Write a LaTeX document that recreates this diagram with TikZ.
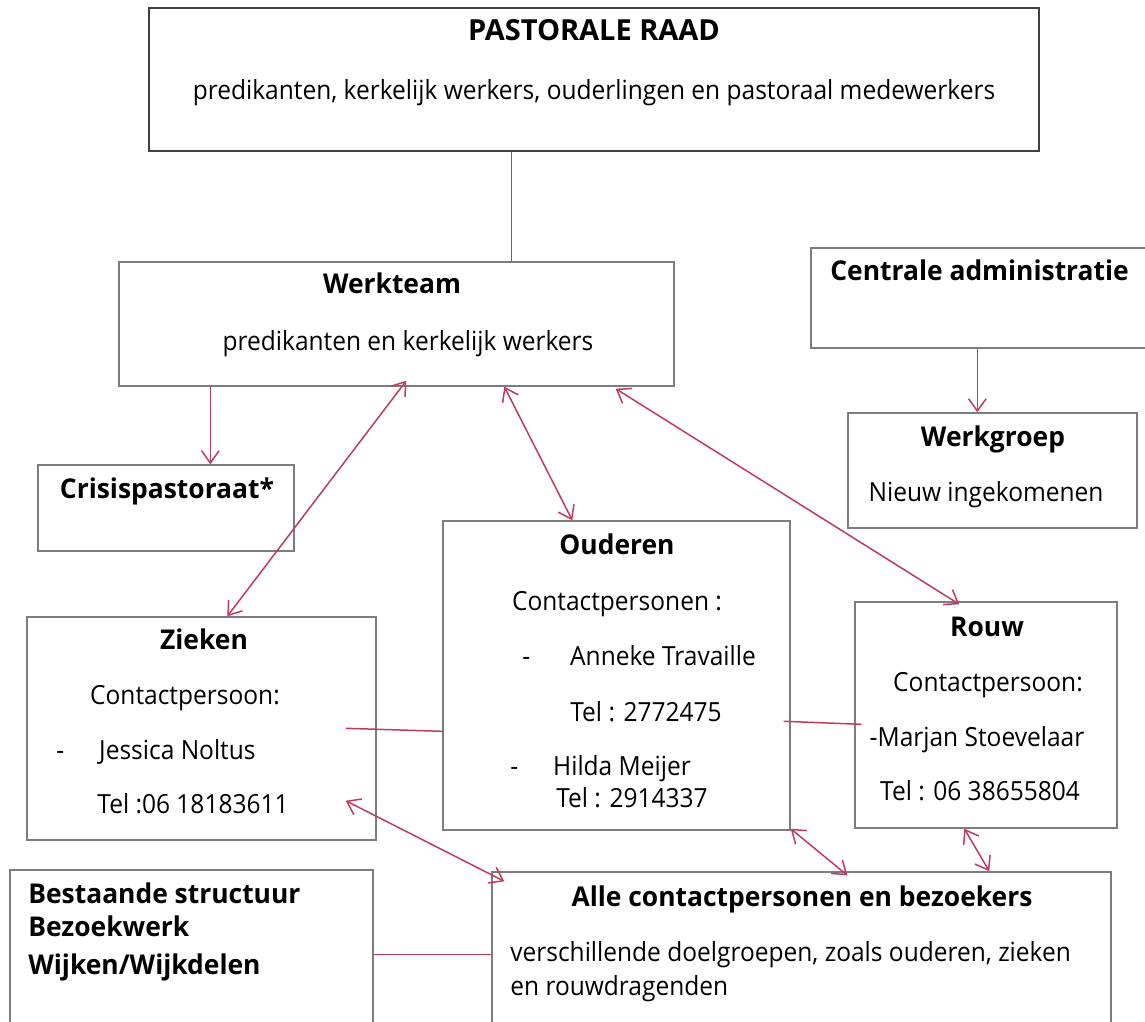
\documentclass[tikz,border=0pt]{standalone}
\usepackage{fontspec}
\setmainfont{Open Sans}
\newfontfamily\smaltekst[FakeStretch=0.93]{Open Sans}
\newfontfamily\smalkop[FakeStretch=0.97]{Open Sans}
\usetikzlibrary{calc, positioning, fit, arrows.meta}

\definecolor{lijnrood}{RGB}{192,58,92}
\definecolor{kadergrijs}{RGB}{125,125,125}

\begin{document}
\begin{tikzpicture}[x=0.02cm, y=-0.02cm, >={Straight Barb[length=7pt,width=10pt]},
  kader/.style={draw=kadergrijs, line width=0.8pt, inner sep=0pt},
  titel/.style={font=\fontsize{15.5}{18}\selectfont\smalkop\bfseries, anchor=mid, inner sep=0pt, yshift=-2pt},
  tekst/.style={font=\fontsize{15}{18}\selectfont\smaltekst, anchor=mid, inner sep=0pt, yshift=-1.5pt},
  lijn/.style={draw=lijnrood, line width=0.85pt}]
  \useasboundingbox (0,0) rectangle (1145,1021);

  % kaders
  \node[kader, draw=black!75, fit={(149,8) (1039,151)}] (raad) {};
  \node[kader, fit={(119,262) (674,386)}] (werkteam) {};
  \node[kader, fit={(811,248) (1150,348)}] (centraal) {};
  \node[kader, fit={(848,413) (1137,528)}] (werkgroep) {};
  \node[kader, fit={(38,465) (294,551)}] (crisis) {};
  \node[kader, fit={(443,521) (790,830)}] (ouderen) {};
  \node[kader, fit={(855,602) (1117,828)}] (rouw) {};
  \node[kader, fit={(27,617) (376,840)}] (zieken) {};
  \node[kader, fit={(10,870) (373,1040)}] (bestaand) {};
  \node[kader, fit={(492,872) (1111,1040)}] (alle) {};

  % teksten
  \node[titel, font=\fontsize{16.5}{18}\selectfont\bfseries] (raadkop) at (594,32) {PASTORALE RAAD};
  \node[tekst] (raadtekst) at (594,92) {predikanten, kerkelijk werkers, ouderlingen en pastoraal medewerkers};
  \node[titel] (werkteamkop) at (392,285) {Werkteam};
  \node[tekst] (werkteamtekst) at (408,343) {predikanten en kerkelijk werkers};
  \node[titel, anchor=mid west] (centraalkop) at (830,272) {Centrale administratie};
  \node[titel] (werkgroepkop) at (993,438) {Werkgroep};
  \node[tekst] (werkgroeptekst) at (986,494) {Nieuw ingekomenen};
  \node[titel] (crisiskop) at (167,490) {Crisispastoraat*};

  \node[titel] (ouderenkop) at (617,546) {Ouderen};
  \node[tekst] (ouderen1) at (617,603) {Contactpersonen :};
  \node[tekst, anchor=mid west] (ouderen2) at (522,658) {-\hspace{0.8cm}Anneke Travaille};
  \node[tekst] (ouderen3) at (646,714) {Tel : 2772475};
  \node[tekst, anchor=mid west] (ouderen4) at (510,768) {-\hspace{0.7cm}Hilda Meijer};
  \node[tekst, anchor=mid west] (ouderen5) at (556,800) {Tel : 2914337};

  \node[titel] (rouwkop) at (987,628) {Rouw};
  \node[tekst] (rouw1) at (988,684) {Contactpersoon:};
  \node[tekst] (rouw2) at (977,739) {-Marjan Stoevelaar};
  \node[tekst] (rouw3) at (980,793) {Tel : 06 38655804};

  \node[titel] (ziekenkop) at (204,641) {Zieken};
  \node[tekst] (zieken1) at (185,697) {Contactpersoon:};
  \node[tekst, anchor=mid west] (zieken2) at (56,752) {-\hspace{0.7cm}Jessica Noltus};
  \node[tekst] (zieken3) at (193,806) {Tel :06 18183611};

  \node[titel, anchor=mid west] (bestaand1) at (28,895) {Bestaande structuur};
  \node[titel, anchor=mid west] (bestaand2) at (28,928) {Bezoekwerk};
  \node[titel, anchor=mid west] (bestaand3) at (28,966) {Wijken/Wijkdelen};

  \node[titel] (allekop) at (802,898) {Alle contactpersonen en bezoekers};
  \node[tekst, anchor=mid west] (alle1) at (510,954) {verschillende doelgroepen, zoals ouderen, zieken};
  \node[tekst, anchor=mid west] (alle2) at (510,988) {en rouwdragenden};

  % verbindingen
  \draw[lijn] ($(raad.south west)+(363,0)$) -- ($(werkteam.north west)+(393,0)$);
  \draw[lijn, ->] ($(werkteam.south west)+(92,0)$) -- ($(crisis.north west)+(173,0)$);
  \draw[lijn, <->] ($(werkteam.south west)+(288,-6)$) -- ($(zieken.north west)+(201,0)$);
  \draw[lijn, <->] ($(werkteam.south west)+(386,0)$) -- ($(ouderen.north west)+(130,0)$);
  \draw[lijn, <->] ($(werkteam.south east)+(-59,2)$) -- ($(rouw.north west)+(105,3)$);
  \draw[lijn, ->] ($(centraal.south west)+(167,0)$) -- ($(werkgroep.north west)+(130,0)$);
  \draw[lijn] ($(zieken.north east)+(-31,112)$) -- ($(ouderen.north west)+(0,211)$);
  \draw[lijn] ($(ouderen.north east)+(-7,201)$) -- ($(rouw.north west)+(7,123)$);
  \draw[lijn, <->] ($(zieken.south east)+(-31,-40)$) -- ($(alle.north west)+(13,10)$);
  \draw[lijn, <->] ($(ouderen.south east)+(0,-2)$) -- ($(alle.north west)+(356,4)$);
  \draw[lijn, <->] ($(rouw.south west)+(110,0)$) -- ($(alle.north west)+(498,0)$);
  \draw[lijn] ($(bestaand.north east)+(0,85)$) -- ($(alle.north west)+(0,83)$);
\end{tikzpicture}
\end{document}
